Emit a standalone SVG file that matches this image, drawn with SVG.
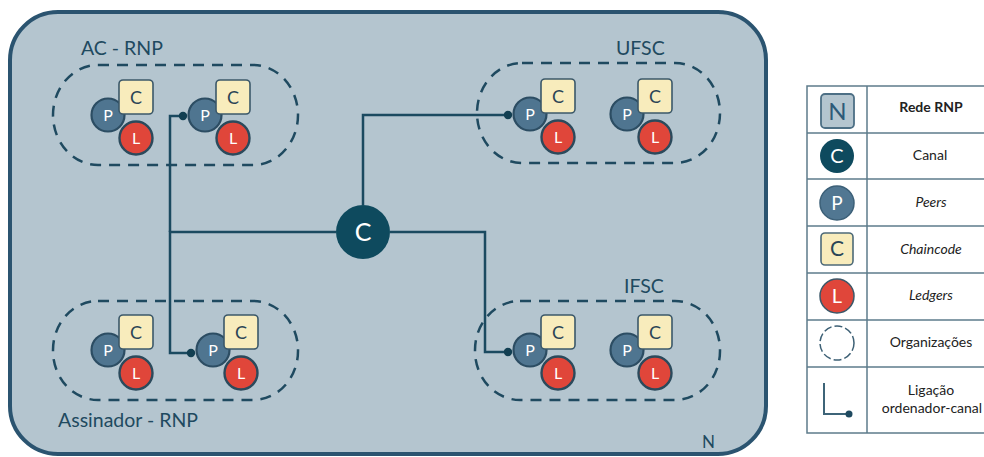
<svg xmlns="http://www.w3.org/2000/svg" width="984" height="457" viewBox="0 0 984 457">
<style>
  text { font-family: Lato, "Open Sans", "Liberation Sans", sans-serif; }
  .org { fill: none; stroke: #1f4a60; stroke-width: 2.5; stroke-dasharray: 11 8; }
  .orglabel { font-size: 19.5px; fill: #1f4a60; }
  .p { fill: #4f7590; stroke: #2c4d63; stroke-width: 2.2; }
  .c { fill: #f8ecbc; stroke: #3b5869; stroke-width: 1.6; }
  .l { fill: #e0463a; stroke: #2b4a5c; stroke-width: 2.4; }
  .lt { font-size: 16px; fill: #ffffff; text-anchor: middle; }
  .ct { font-size: 18px; fill: #2a4556; text-anchor: middle; }
  .conn { fill: none; stroke: #1b4a60; stroke-width: 2.5; }
  .dot { fill: #123f52; }
  .leg { font-size: 14px; fill: #222222; text-anchor: middle; }
  .cell { fill: #ffffff; stroke: #5d7b8b; stroke-width: 1.5; }
</style>
<defs>
  <g id="peer">
    <circle class="p" cx="0" cy="0" r="16.5"/>
    <text class="lt" x="0" y="6">P</text>
    <rect class="c" x="11" y="-35" width="34" height="34" rx="4"/>
    <text class="ct" x="28" y="-11.5">C</text>
    <circle class="l" cx="28" cy="23" r="16.5"/>
    <text class="lt" x="28" y="29">L</text>
  </g>
</defs>

<g id="network">
  <rect x="10" y="12" width="756" height="442" rx="48" fill="#b4c5cf" stroke="#2b5470" stroke-width="4"/>
  <text x="702" y="448" font-size="17" fill="#1f4a60">N</text>
</g>

<g id="org-ac-rnp">
  <rect class="org" x="53" y="65" width="245" height="100" rx="45" ry="50"/>
  <text class="orglabel" x="81" y="55">AC - RNP</text>
</g>
<g id="org-assinador-rnp">
  <rect class="org" x="53" y="301" width="245" height="99" rx="45" ry="49"/>
  <text class="orglabel" x="58" y="427">Assinador - RNP</text>
</g>
<g id="org-ufsc">
  <rect class="org" x="477" y="63" width="243" height="100" rx="45" ry="50"/>
  <text class="orglabel" x="616" y="55">UFSC</text>
</g>
<g id="org-ifsc">
  <rect class="org" x="475" y="301" width="245" height="99" rx="45" ry="49"/>
  <text class="orglabel" x="624" y="293">IFSC</text>
</g>

<g id="connectors">
  <path class="conn" d="M183,116 H170 V232"/>
  <path class="conn" d="M336,232 H170 V353 H191"/>
  <path class="conn" d="M363,205 V115 H508"/>
  <path class="conn" d="M390,232 H485 V352 H508"/>
  <circle class="dot" cx="183" cy="116" r="4.2"/>
  <circle class="dot" cx="191" cy="353" r="4.2"/>
  <circle class="dot" cx="508" cy="115" r="4.2"/>
  <circle class="dot" cx="508" cy="352" r="4.2"/>
</g>

<g id="peer-ac-1"><use href="#peer" x="108" y="115"/></g>
<g id="peer-ac-2"><use href="#peer" x="205" y="115"/></g>
<g id="peer-assinador-1"><use href="#peer" x="108" y="350"/></g>
<g id="peer-assinador-2"><use href="#peer" x="213" y="350"/></g>
<g id="peer-ufsc-1"><use href="#peer" x="530" y="114"/></g>
<g id="peer-ufsc-2"><use href="#peer" x="627" y="114"/></g>
<g id="peer-ifsc-1"><use href="#peer" x="530" y="350"/></g>
<g id="peer-ifsc-2"><use href="#peer" x="627" y="350"/></g>

<g id="channel">
  <circle cx="363" cy="232" r="27" fill="#0e4a5e"/>
  <text x="363" y="241" font-size="25" fill="#ffffff" text-anchor="middle">C</text>
</g>

<g id="legend">
  <rect class="cell" x="807" y="86" width="190" height="347"/>
  <line x1="867" y1="86" x2="867" y2="433" stroke="#5d7b8b" stroke-width="1.5"/>
  <line x1="807" y1="133" x2="990" y2="133" stroke="#5d7b8b" stroke-width="1.5"/>
  <line x1="807" y1="179" x2="990" y2="179" stroke="#5d7b8b" stroke-width="1.5"/>
  <line x1="807" y1="226" x2="990" y2="226" stroke="#5d7b8b" stroke-width="1.5"/>
  <line x1="807" y1="273" x2="990" y2="273" stroke="#5d7b8b" stroke-width="1.5"/>
  <line x1="807" y1="320" x2="990" y2="320" stroke="#5d7b8b" stroke-width="1.5"/>
  <line x1="807" y1="367" x2="990" y2="367" stroke="#5d7b8b" stroke-width="1.5"/>

  <rect x="821" y="94" width="33" height="34" rx="4" fill="#b4c5cf" stroke="#4d6f85" stroke-width="1.8"/>
  <text x="837.5" y="120" font-size="24" fill="#2d5a78" text-anchor="middle">N</text>
  <text class="leg" x="931" y="112" font-weight="bold">Rede RNP</text>

  <circle cx="837" cy="156" r="17" fill="#0e4a5e"/>
  <text x="837" y="163" font-size="20" fill="#ffffff" text-anchor="middle">C</text>
  <text class="leg" x="930" y="160">Canal</text>

  <circle cx="837" cy="203" r="17" fill="#517792" stroke="#3c6078" stroke-width="1.5"/>
  <text x="837" y="210" font-size="19" fill="#ffffff" text-anchor="middle">P</text>
  <text class="leg" x="931" y="207" font-style="italic">Peers</text>

  <rect x="821" y="233" width="32" height="32" rx="4" fill="#f8ecbc" stroke="#4d6a78" stroke-width="1.6"/>
  <text x="837" y="256" font-size="21" fill="#2a4556" text-anchor="middle">C</text>
  <text class="leg" x="931" y="254" font-style="italic">Chaincode</text>

  <circle cx="837" cy="296" r="17" fill="#e0463a" stroke="#3b5869" stroke-width="1.5"/>
  <text x="837" y="303" font-size="20" fill="#ffffff" text-anchor="middle">L</text>
  <text class="leg" x="931" y="300" font-style="italic">Ledgers</text>

  <circle cx="837" cy="343" r="17" fill="none" stroke="#3d6075" stroke-width="1.5" stroke-dasharray="8 3"/>
  <text class="leg" x="931" y="347">Organizações</text>

  <path d="M824,383 V414 H849" fill="none" stroke="#3d6478" stroke-width="2"/>
  <circle cx="849" cy="414" r="3.5" fill="#1f4a60"/>
  <text class="leg" x="931" y="395">Ligação</text>
  <text class="leg" x="932" y="413">ordenador-canal</text>
</g>
</svg>
